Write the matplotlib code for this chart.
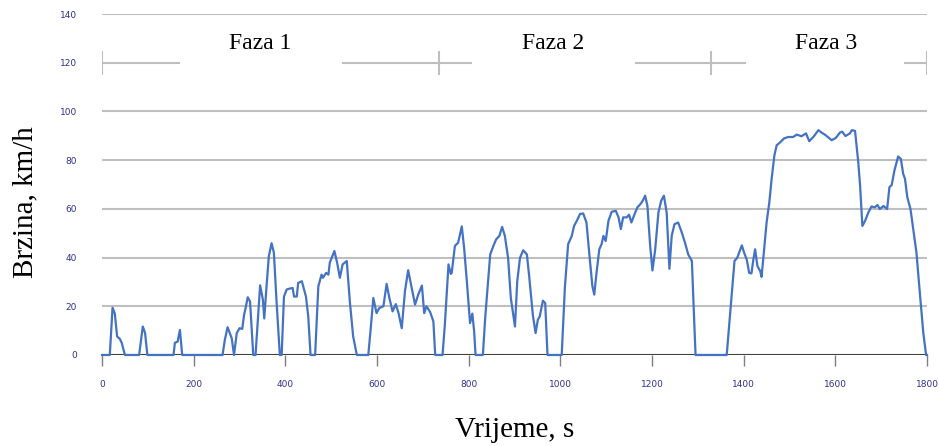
import matplotlib.pyplot as plt

# ── 数据 ──
t = [0, 17, 23, 28, 33, 39, 43, 50, 81, 89, 94, 99, 156, 159, 165, 170, 175,
     263, 268, 274, 283, 288, 294, 300, 306, 310, 313, 318, 323, 330, 335,
     345, 351, 354, 359, 364, 370, 375, 381, 388, 392, 397, 403, 410, 416,
     419, 425, 428, 436, 439, 445, 450, 455, 465, 472, 479, 482, 489, 494,
     497, 507, 513, 519, 525, 534, 541, 548, 556, 581, 587, 592, 599, 605,
     614, 621, 627, 634, 641, 647, 654, 661, 668, 676, 683, 690, 698, 703,
     708, 716, 723, 727, 743, 748, 756, 761, 763, 770, 777, 785, 790, 796,
     803, 808, 812, 815, 831, 836, 847, 854, 860, 867, 873, 879, 886, 892,
     901, 906, 912, 919, 927, 932, 940, 946, 951, 955, 962, 967, 972, 1003,
     1010, 1017, 1025, 1030, 1036, 1043, 1050, 1057, 1065, 1070, 1074, 1079,
     1085, 1090, 1094, 1099, 1105, 1112, 1121, 1127, 1132, 1137, 1145, 1150,
     1155, 1163, 1168, 1175, 1180, 1185, 1190, 1196, 1201, 1207, 1214, 1220,
     1226, 1232, 1238, 1243, 1249, 1257, 1265, 1272, 1279, 1287, 1295, 1363,
     1380, 1386, 1390, 1396, 1401, 1407, 1412, 1417, 1421, 1425, 1430, 1436,
     1439, 1444, 1450, 1456, 1461, 1467, 1472, 1479, 1488, 1497, 1508, 1516,
     1526, 1536, 1543, 1552, 1563, 1570, 1577, 1592, 1601, 1610, 1615, 1622,
     1632, 1636, 1643, 1650, 1654, 1659, 1665, 1672, 1679, 1686, 1692, 1697,
     1705, 1713, 1718, 1723, 1729, 1737, 1743, 1748, 1752, 1757, 1764, 1770,
     1777, 1785, 1792, 1798, 1800]
v = [0, 0, 19.4, 17, 7.6, 6.6, 5, 0, 0, 11.7, 9, 0, 0, 5, 5.5, 10.3, 0,
     0, 6.2, 11.4, 6.9, 0, 9, 11, 10.7, 16.5, 19, 23.7, 22, 0, 0,
     28.6, 22.7, 15, 28.2, 40.6, 45.9, 42, 21.4, 0, 0, 24, 26.9, 27.3, 27.5,
     24, 24, 29.6, 30.3, 28.2, 24, 15.8, 0, 0, 28.2, 33, 31.7, 33.7, 33,
     37.9, 42.7, 37.9, 31.7, 37.2, 38.6, 21.4, 7.6, 0, 0, 12.4, 23.4, 17.2, 19.3,
     20, 29.2, 23.4, 17.9, 20.9, 17.2, 11, 26.2, 34.8, 27.4, 20.7, 24.8, 28.5, 17.2,
     20, 17.6, 13.8, 0, 0, 12.4, 37.2, 33.3, 33.7, 44.8, 46.1, 52.8, 44.1, 30.3,
     13.1, 17, 9.6, 0, 0, 15.1, 41.3, 44.8, 47.5, 48.9, 52.6, 48.9, 39.9, 23.4,
     11.7, 30.3, 39.9, 43, 41.3, 32.4, 16.5, 9, 14.5, 15.8, 22.3, 21.3, 0, 0,
     28, 45.5, 48.9, 53, 55.1, 57.9, 58.1, 54.4, 37.9, 28.2, 24.8, 33.8,
     43.4, 45.5, 48.9, 46.8, 55.1, 58.8, 59.2, 56.5, 51.7, 56.5, 56.5, 57.6,
     54.4, 58.3, 60.6, 62, 63.4, 65.4, 61.3, 44.8, 34.7, 43.4, 58.5, 63.3,
     65.4, 58.5, 35.4, 48.9, 53.7, 54.4, 50.3, 46.1, 41.3, 38.6, 0, 0,
     38.6, 39.9, 42, 45, 42, 39, 33.7, 33.5, 39, 43.4, 36.5, 34.5,
     32.1, 42, 54.4, 62.7, 72.3, 81.9, 86.1, 87.2, 88.9, 89.5, 89.5, 90.5,
     89.8, 91, 87.8, 89.5, 92.3, 91.3, 90.5, 88.2, 89.1, 91.3, 91.7, 89.9,
     91, 92.3, 92, 79.2, 69.6, 53, 55.1, 58.5, 61, 60.6, 61.6, 59.9,
     61.2, 59.9, 68.9, 69.8, 75.8, 81.5, 80.5, 74.4, 72.3, 64.8, 59.9, 51.7,
     42, 24.1, 9, 0, 0]

# 相位
phase_names = ["Faza 1", "Faza 2", "Faza 3"]
phase_label_t = [345, 984, 1580]
phase_label_v = 127.7
phase_bounds = [0, 735, 1329, 1800]
phase_segments = [(0, 169), (526, 805), (1165, 1403), (1752, 1800)]
phase_level = 120

grid_levels = [20, 40, 60, 80, 100, 140]
x_ticks = list(range(0, 1801, 200))
y_ticks = list(range(0, 141, 20))

# ── 画图 ──
fig = plt.figure(figsize=(9.39, 4.46), dpi=100)
ax = fig.add_axes([102 / 939, (446 - 355) / 446, 825 / 939, 341 / 446])

ax.hlines(grid_levels, 0, 1800, color="#bfbfbf", lw=1.5, zorder=1)
for a, b in phase_segments:
    ax.plot([a, b], [phase_level, phase_level], color="#bfbfbf", lw=1.5, zorder=1)
ax.vlines(phase_bounds, phase_level - 5, phase_level + 5, color="#bfbfbf", lw=1.5, zorder=1)
for name, pt in zip(phase_names, phase_label_t):
    ax.text(pt, phase_label_v, name, ha="center", va="center",
            fontsize=17, family="Liberation Serif")

ax.axhline(0, color="#404040", lw=1.5, zorder=2)
ax.plot(t, v, color="#4472c4", lw=1.6, zorder=3, clip_on=False)

ax.set_xlim(0, 1800)
ax.set_ylim(0, 140)
for s in ax.spines.values():
    s.set_visible(False)

ax.set_xticks(x_ticks)
ax.set_yticks(y_ticks)
ax.tick_params(axis="x", length=8, width=1, color="#7f7f7f", pad=10,
               labelsize=6.5, labelcolor="#2e3192")
ax.tick_params(axis="y", length=0, pad=18, labelsize=6.5, labelcolor="#2e3192")

ax.set_xlabel("Vrijeme, s", fontsize=21, family="Liberation Serif")
ax.xaxis.set_label_coords(0.5, -(430 - 355) / 341)
ax.xaxis.label.set_va("center")
ax.set_ylabel("Brzina, km/h", fontsize=21, family="Liberation Serif")
ax.yaxis.set_label_coords(-(102 - 25) / 825, (355 - 202) / 341)
ax.yaxis.label.set_va("center")

plt.savefig("out.png", dpi=100)
